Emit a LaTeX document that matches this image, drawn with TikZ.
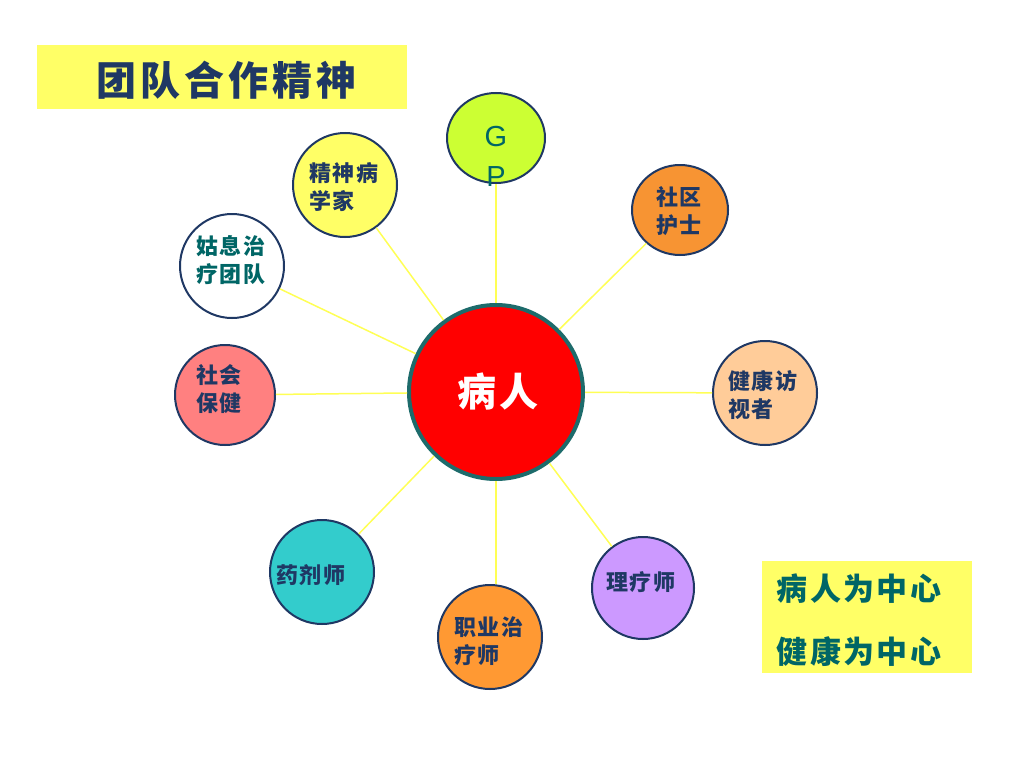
\documentclass[tikz,border=0pt]{standalone}
\usepackage{fontspec}
\usetikzlibrary{shapes.geometric}
\newfontfamily\cjk{Noto Sans CJK SC}
\newfontfamily\cjksp[LetterSpace=8]{Noto Sans CJK SC}
\newfontfamily\cjkbig[LetterSpace=10]{Noto Sans CJK SC}
\newfontfamily\lat{Liberation Sans}
\definecolor{navy}{HTML}{1F3864}
\definecolor{tealtxt}{HTML}{006666}
\definecolor{ylw}{HTML}{FFFF66}
\definecolor{lineY}{HTML}{FFFF55}
\definecolor{ctrborder}{HTML}{1D6B6B}
\definecolor{gpfill}{HTML}{CCFF33}
\definecolor{socfill}{HTML}{FF8080}
\definecolor{nurfill}{HTML}{F79433}
\definecolor{hvfill}{HTML}{FFCC99}
\definecolor{phfill}{HTML}{33CCCC}
\definecolor{otfill}{HTML}{FF9933}
\definecolor{ptfill}{HTML}{CC99FF}
\begin{document}
\begin{tikzpicture}[x=1pt,y=-1pt,
  spoke/.style={circle,draw=navy,line width=2pt,inner sep=0pt,minimum size=#1},
  lbl/.style={font=\cjksp\bfseries\fontsize{22}{28}\selectfont,text=navy,align=left,inner sep=0pt},
  conn/.style={draw=lineY,line width=1.5pt}]
\useasboundingbox (0,0) rectangle (1024,768);
\fill[white] (0,0) rectangle (1024,768);
% title
\node[fill=ylw,minimum width=370,minimum height=64,inner sep=0pt] (title) at (222,77) {};
\node[font=\cjkbig\bfseries\fontsize{40}{40}\selectfont,text=navy] (titletext) at (226,80) {团队合作精神};
% center
\node[circle,fill=red,draw=ctrborder,line width=4pt,minimum size=174,inner sep=0pt] (c) at (496,392) {};
\node[font=\cjkbig\bfseries\fontsize{39}{39}\selectfont,text=white] (ctext) at (498,392) {病人};
% spokes
\node[ellipse,fill=gpfill,draw=navy,line width=2pt,minimum width=98,minimum height=90,inner sep=0pt] (gp) at (496,138) {};
\node[font=\lat\fontsize{29}{40}\selectfont,text=tealtxt,align=center,inner sep=0pt] (gpt) at (496,156) {G\\P};
\node[spoke=104,fill=ylw] (psy) at (345,185) {};
\node[lbl] (psyt) at (344,187) {精神病\\学家};
\node[spoke=104,fill=white] (pal) at (232,266) {};
\node[lbl,text=tealtxt] (palt) at (231,260) {姑息治\\疗团队};
\node[spoke=100,fill=socfill] (soc) at (225,395) {};
\node[lbl] (soct) at (219,389) {社会\\保健};
\node[ellipse,draw=navy,line width=2pt,minimum width=96,minimum height=90,inner sep=0pt,fill=nurfill] (nur) at (680,210) {};
\node[lbl] (nurt) at (679,211) {社区\\护士};
\node[spoke=104,fill=hvfill] (hv) at (765,393) {};
\node[lbl] (hvt) at (763,395) {健康访\\视者};
\node[spoke=104,fill=phfill] (ph) at (322,572) {};
\node[lbl] (pht) at (311,575) {药剂师};
\node[spoke=104,fill=otfill] (ot) at (490,637) {};
\node[lbl] (ott) at (489,641) {职业治\\疗师};
\node[spoke=102,fill=ptfill] (pt) at (643,588) {};
\node[lbl] (ptt) at (641,582) {理疗师};
% connectors
\draw[conn] (c) -- (gp);
\draw[conn] (c) -- (psy);
\draw[conn] (c) -- (pal);
\draw[conn] (c) -- (soc);
\draw[conn] (c) -- (nur);
\draw[conn] (c) -- (hv);
\draw[conn] (c) -- (ph);
\draw[conn] (c.south) -- (c.south |- ot.north);
\draw[conn] (c) -- (pt);
% bottom right box
\node[fill=ylw,minimum width=210,minimum height=112,inner sep=0pt] (box) at (867,617) {};
\node[font=\cjksp\bfseries\fontsize{31}{63}\selectfont,text=tealtxt,align=left,inner sep=0pt] (boxt) at (859,620) {病人为中心\\健康为中心};
\end{tikzpicture}
\end{document}
